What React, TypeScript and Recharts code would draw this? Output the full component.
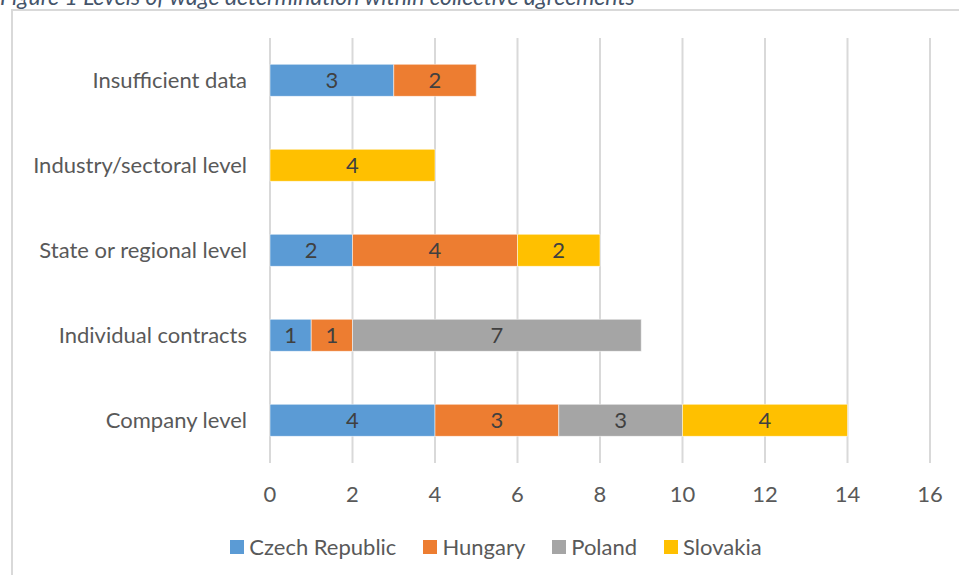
import { BarChart, Bar, XAxis, YAxis, CartesianGrid, Legend, LabelList } from "recharts";

const categories = ["Insufficient data", "Industry/sectoral level", "State or regional level", "Individual contracts", "Company level"];
const czech = [3, null, 2, 1, 4];
const hungary = [2, null, 4, 1, 3];
const poland = [null, null, null, 7, 3];
const slovakia = [null, 4, 2, null, 4];
const xTicks = [0, 2, 4, 6, 8, 10, 12, 14, 16];

const series = [
    { key: "czech", name: "Czech Republic", color: "#5B9BD5", values: czech },
    { key: "hungary", name: "Hungary", color: "#ED7D31", values: hungary },
    { key: "poland", name: "Poland", color: "#A5A5A5", values: poland },
    { key: "slovakia", name: "Slovakia", color: "#FFC000", values: slovakia },
];

const data = categories.map((c, i) => {
    const row: any = { category: c };
    series.forEach((s) => (row[s.key] = s.values[i]));
    return row;
});

const font = "Lato, 'Open Sans', sans-serif";
const textSize = 22;

function LegendContent() {
    return (
        <div style={{ display: "flex", justifyContent: "center", gap: 27, fontFamily: font, fontSize: textSize, color: "#595959", lineHeight: "26px" }}>
            {series.map((s) => (
                <div key={s.key} style={{ display: "flex", alignItems: "center", gap: 5 }}>
                    <span style={{ width: 14, height: 14, background: s.color, display: "inline-block" }} />
                    <span>{s.name}</span>
                </div>
            ))}
        </div>
    );
}

export default function App() {
    return (
        <div style={{ position: "absolute", left: 0, top: 0, width: 959, height: 575, overflow: "hidden", background: "#fff" }}>
            <div style={{ position: "absolute", left: 0, top: -18, fontFamily: font, fontStyle: "italic", fontSize: 23, color: "#44546A", whiteSpace: "nowrap" }}>
                Figure 1 Levels of wage determination within collective agreements
            </div>
            <div style={{ position: "absolute", left: 11, top: 9, width: 970, height: 580, border: "2px solid #d9d9d9" }} />
            <div style={{ position: "absolute", left: 0, top: 0 }}>
                <BarChart
                    width={959}
                    height={575}
                    data={data}
                    layout="vertical"
                    barCategoryGap="31%"
                    margin={{ top: 38, right: 29, left: 10, bottom: 36 }}
                >
                    <CartesianGrid horizontal={false} stroke="#d9d9d9" strokeWidth={2} />
                    <XAxis
                        type="number"
                        domain={[0, 16]}
                        ticks={xTicks}
                        axisLine={false}
                        tickLine={false}
                        tickMargin={17}
                        height={50}
                        tick={{ fill: "#595959", fontSize: textSize, fontFamily: font }}
                    />
                    <YAxis
                        type="category"
                        dataKey="category"
                        width={260}
                        axisLine={false}
                        tickLine={false}
                        tickMargin={17}
                        tick={{ fill: "#595959", fontSize: textSize, fontFamily: font }}
                    />
                    <Legend verticalAlign="bottom" content={<LegendContent />} wrapperStyle={{ left: 12, width: 968, bottom: 15 }} />
                    {series.map((s) => (
                        <Bar key={s.key} dataKey={s.key} name={s.name} stackId="a" fill={s.color} stroke="#ffffff" strokeOpacity={0.5} strokeWidth={1} isAnimationActive={false}>
                            <LabelList dataKey={s.key} position="center" fill="#404040" fontSize={textSize} fontFamily={font} />
                        </Bar>
                    ))}
                </BarChart>
            </div>
        </div>
    );
}
